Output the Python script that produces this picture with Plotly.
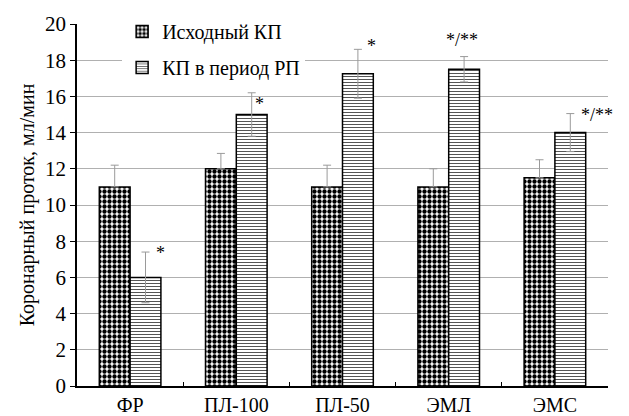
import plotly.graph_objects as go

categories = ["ФР", "ПЛ-100", "ПЛ-50", "ЭМЛ", "ЭМС"]
series_names = ["Исходный КП", "КП в период РП"]
baseline = [11.0, 12.0, 11.0, 11.0, 11.5]
baseline_err = [1.2, 0.85, 1.2, 1.0, 1.0]
reperf = [6.0, 15.0, 17.25, 17.5, 14.0]
reperf_err = [1.4, 1.2, 1.35, 0.7, 1.05]
marks = ["*", "*", "*", "*/**", "*/**"]
y_ticks = list(range(0, 21, 2))

# styling offsets for the significance marks (px / data units)
mark_dx = [30, 23, 29, 13, 42]
mark_dy = [-0.06, -0.6, 0.16, 0.9, -0.06]

FONT = "Liberation Serif, Times New Roman, DejaVu Serif, serif"

fig = go.Figure()
fig.add_trace(go.Bar(
    x=categories, y=baseline, name=series_names[0],
    marker=dict(color="white", line=dict(color="black", width=1.5),
                pattern=dict(shape=".", fgcolor="black", bgcolor="white",
                             size=5, solidity=0.6, fillmode="replace")),
    error_y=dict(type="data", array=baseline_err, arrayminus=[0]*len(baseline_err),
                 color="#9a9a9a", thickness=1, width=4),
    legendgroup="a",
))
fig.add_trace(go.Bar(
    x=categories, y=reperf, name=series_names[1],
    marker=dict(color="white", line=dict(color="black", width=1.5),
                pattern=dict(shape="-", fgcolor="#555555", bgcolor="white",
                             size=3, solidity=0.34, fillmode="replace")),
    error_y=dict(type="data", array=reperf_err, color="#9a9a9a", thickness=1, width=4),
    legendgroup="b",
))

for i, c in enumerate(categories):
    fig.add_annotation(x=c, y=reperf[i] + reperf_err[i] + mark_dy[i], text=marks[i],
                       showarrow=False, xshift=mark_dx[i], yshift=0,
                       font=dict(family=FONT, size=18, color="black"),
                       xanchor="center", yanchor="middle")

fig.update_layout(
    template="none",
    width=629, height=416,
    margin=dict(l=77, r=21, t=20, b=30),
    paper_bgcolor="white", plot_bgcolor="white",
    barmode="group", bargap=0.42, bargroupgap=0,
    font=dict(family=FONT, color="black"),
    legend=dict(x=0.085, y=1.033, xanchor="left", yanchor="top",
                bgcolor="white", borderwidth=0, tracegroupgap=7,
                font=dict(family=FONT, size=20, color="black")),
    showlegend=True,
)
fig.update_xaxes(type="category", range=[-0.5, len(categories) - 0.5], automargin=False,
                 showline=True, linecolor="black", linewidth=1.5,
                 ticks="inside", tickson="boundaries", ticklen=4, tickcolor="black",
                 tickfont=dict(family=FONT, size=20, color="black"), showgrid=False)
fig.update_yaxes(range=[0, 20], automargin=False, tickvals=y_ticks, showline=True, linecolor="black",
                 linewidth=1.5, ticks="outside", ticklen=5, tickcolor="black",
                 gridcolor="#b0b0b0", gridwidth=1, zeroline=False,
                 tickfont=dict(family=FONT, size=21, color="black"),
                 title=dict(text="Коронарный проток, мл/мин", standoff=5,
                            font=dict(family=FONT, size=20, color="black")))

fig.write_html("out.html", config={"displayModeBar": False},
               post_script="document.body.style.margin='0';document.body.style.overflow='hidden';")
